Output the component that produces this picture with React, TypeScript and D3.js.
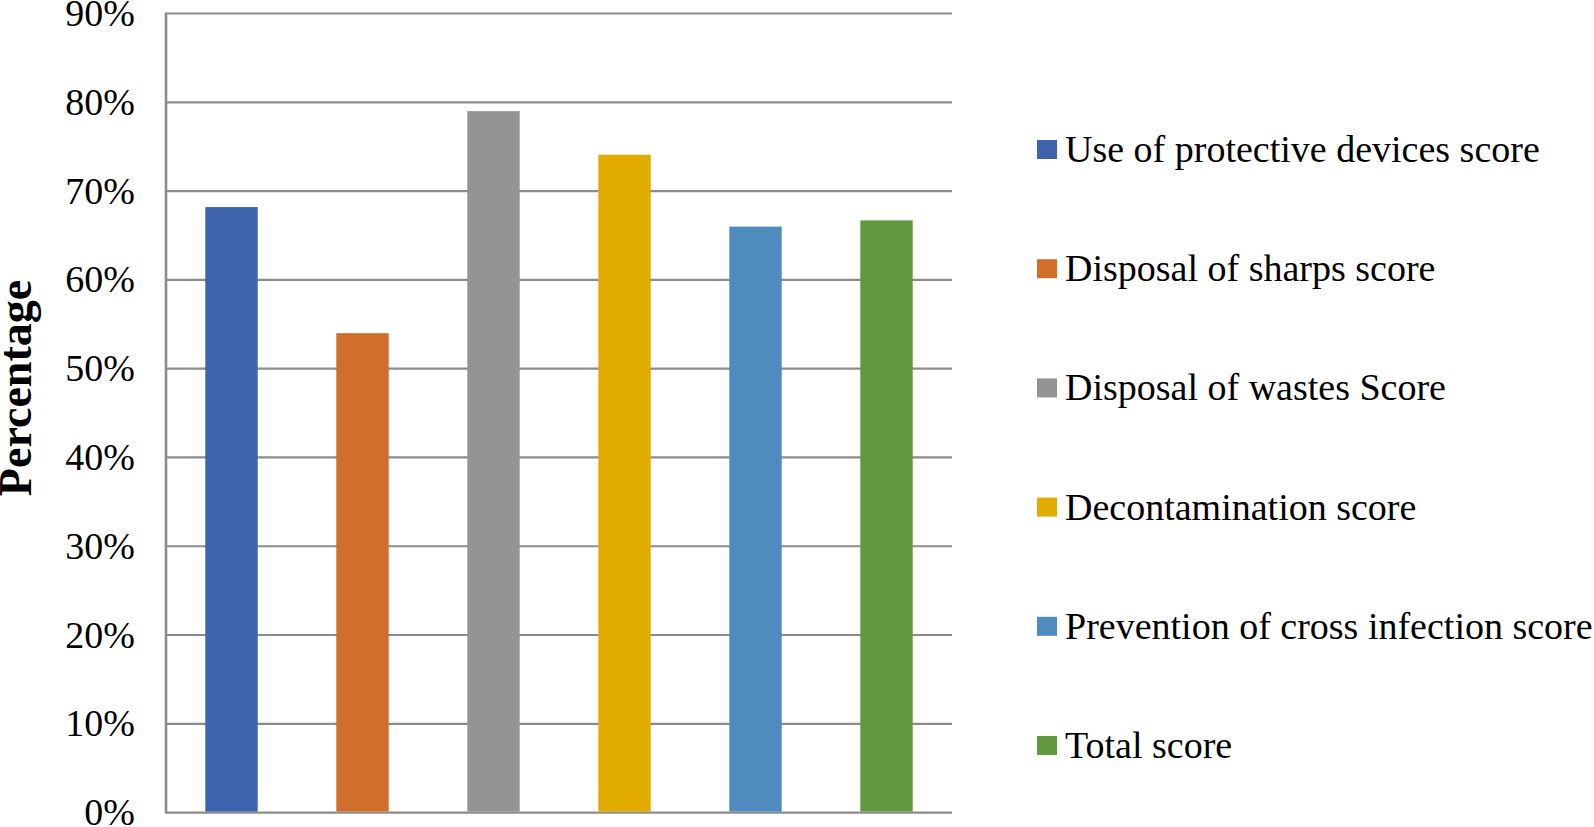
import React from "react";
import * as d3 from "d3";

const categories = [
  "Use of protective devices score",
  "Disposal of sharps score",
  "Disposal of wastes Score",
  "Decontamination score",
  "Prevention of cross infection score",
  "Total score",
];
const values = [68.2, 54.0, 79.0, 74.1, 66.0, 66.7];
const colors = ["#3D64AD", "#D26E2B", "#949494", "#E2AB00", "#508BBF", "#62993E"];
const yTicks = [0, 10, 20, 30, 40, 50, 60, 70, 80, 90];

const W = 1594;
const H = 827;
const left = 166;
const right = 952;
const top = 13.5;
const bottom = 812.6;
const font = "'Liberation Serif', 'Times New Roman', serif";

export default function App() {
  const x = d3.scaleBand<string>().domain(categories).range([left, right]).paddingInner(0.6).paddingOuter(0.3);
  const y = d3.scaleLinear().domain([0, 90]).range([bottom, top]);
  const legendY = d3.scalePoint<string>().domain(categories).range([149.5, 745.5]);

  return (
    <svg width={W} height={H} style={{ position: "absolute", left: 0, top: 0, background: "#fff" }} fontFamily={font}>
      <rect x={0} y={0} width={W} height={H} fill="#fff" />
      {yTicks.map((t) => (
        <g key={t}>
          <line x1={left} x2={right} y1={y(t)} y2={y(t)} stroke="#8C8C8C" strokeWidth={2.2} />
          <text x={135} y={y(t) + 12.5} textAnchor="end" fontSize={38} fill="#000">
            {t}%
          </text>
        </g>
      ))}
      <line x1={left} x2={left} y1={top - 1} y2={bottom + 1} stroke="#8C8C8C" strokeWidth={2.6} />
      {categories.map((c, i) => (
        <rect key={c} x={x(c)} y={y(values[i])} width={x.bandwidth()} height={y(0) - y(values[i]) - 1} fill={colors[i]} />
      ))}
      <text
        transform={`translate(31, 388) rotate(-90)`}
        textAnchor="middle"
        fontSize={46}
        fontWeight="bold"
        fill="#000"
      >
        Percentage
      </text>
      {categories.map((c, i) => (
        <g key={"lg" + c}>
          <rect x={1037} y={(legendY(c) as number) - 9.5} width={20} height={19} fill={colors[i]} />
          <text x={1065} y={(legendY(c) as number) + 12.5} fontSize={38} fill="#000">
            {c}
          </text>
        </g>
      ))}
    </svg>
  );
}
